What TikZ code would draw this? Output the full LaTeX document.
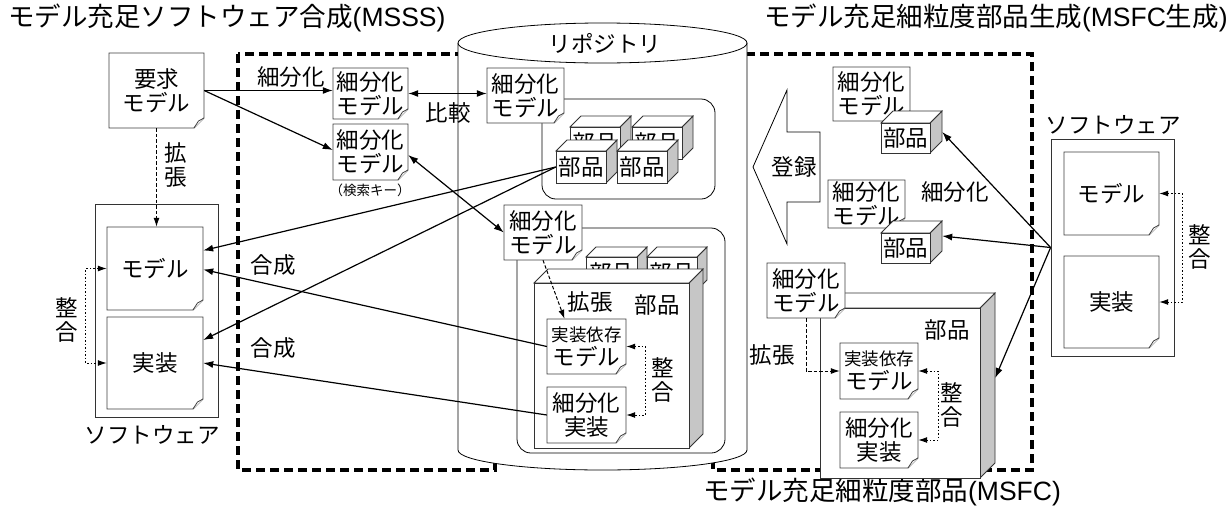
\documentclass[tikz,border=0pt]{standalone}
\usepackage{fontspec}
\setmainfont{Noto Sans CJK JP}
\newfontfamily\lat{Liberation Sans}
\usetikzlibrary{arrows.meta,calc}
\newcommand\fsz{\fontsize{22.5}{24}\selectfont}
\newcommand\fsm{\fontsize{17.5}{19.5}\selectfont}
\newcommand\fst{\fontsize{26.5}{28}\selectfont}
\newcommand\fsk{\fontsize{13.5}{15}\selectfont}
\newcommand\fo{10}
\tikzset{
 docline/.style={draw=black!75, line width=0.8pt, fill=white},
 boxline/.style={draw=black!80, line width=0.8pt},
 tip/.tip={Latex[length=10pt,width=7pt]},
 stip/.tip={Latex[length=9pt,width=6pt]},
 conn/.style={line width=1.2pt, -tip},
 biconn/.style={line width=1.2pt, tip-tip},
 dasharrow/.style={line width=1pt, dash pattern=on 3.5pt off 2pt, -stip},
 dotarrow/.style={line width=1pt, dash pattern=on 1.5pt off 2pt, stip-stip},
 bigdash/.style={line width=3.5pt, dash pattern=on 9pt off 5pt},
 lbl/.style={inner sep=0pt, font=\fsz, align=center},
 doctext/.style={inner sep=0pt, font=\fsz, align=center},
}
% name, x0, y0, x1, y1, text
\newcommand\docshape[6]{%
 \filldraw[docline] (#2,#3) -- (#4,#3) -- (#4,#5-\fo) -- (#4-\fo,#5) -- (#2,#5) -- cycle;
 \draw[docline] (#4,#5-\fo) -- (#4-0.55*\fo,#5-0.7*\fo) -- (#4-\fo,#5);
 \node[doctext, minimum width={(#4-#2)*1pt}, minimum height={(#5-#3)*1pt}] (#1) at ({(#2+#4)/2},{(#3+#5)/2}) {#6};
}
% name, x0, y0, x1, y1, depth, text
\newcommand\cubebox[7]{%
 \filldraw[boxline, fill=gray!45] (#4,#3) -- (#4+#6,#3-#6) -- (#4+#6,#5-#6) -- (#4,#5) -- cycle;
 \filldraw[boxline, fill=white] (#2,#3) -- (#2+#6,#3-#6) -- (#4+#6,#3-#6) -- (#4,#3) -- cycle;
 \filldraw[boxline, fill=white] (#2,#3) rectangle (#4,#5);
 \node[doctext, minimum width={(#4-#2)*1pt}, minimum height={(#5-#3)*1pt}] (#1) at ({(#2+#4)/2},{(#3+#5)/2}) {#7};
}
\begin{document}
\begin{tikzpicture}[x=1pt,y=-1pt]
\useasboundingbox (0,0) rectangle (1232,509);
\fill[white] (0,0) rectangle (1232,509);

% titles
\node[lbl, font=\fst, anchor=west] (t1) at (8,18) {モデル充足ソフトウェア合成{\lat (MSSS)}};
\node[lbl, font=\fst, anchor=east] (t2) at (1228,18) {モデル充足細粒度部品生成{\lat (MSFC}生成{\lat )}};
\node[lbl, font=\fst] (t3) at (882,492) {モデル充足細粒度部品{\lat (MSFC)}};

% dashed regions
\draw[bigdash] (238,54) rectangle (495,470);
\draw[bigdash] (713,54) rectangle (1032,470);

% repository cylinder
\path[fill=white] (458,43) -- (458,450) arc[start angle=180,end angle=0,x radius=144.5,y radius=20] -- (747,43) -- cycle;
\draw[line width=0.8pt] (458,43) -- (458,450) arc[start angle=180,end angle=0,x radius=144.5,y radius=20] -- (747,43);
\draw[line width=0.8pt, fill=white] (602.5,43) ellipse [x radius=144.5, y radius=20];
\node[lbl] (repo) at (605,43) {リポジトリ};

% repository group 1
\node[draw, line width=0.8pt, rounded corners=14pt, minimum width=173pt, minimum height=100pt] (g1) at (628.5,149) {};
\cubebox{pb1}{570}{127}{620}{159}{11}{部品}
\cubebox{pb2}{632}{127}{682}{159}{11}{部品}
\cubebox{pf1}{556}{151}{606}{183}{11}{部品}
\cubebox{pf2}{617}{151}{667}{183}{11}{部品}
\docshape{r1}{487}{68}{564}{123}{細分化\\モデル}

% repository group 2
\node[draw, line width=0.8pt, rounded corners=14pt, minimum width=208pt, minimum height=225pt] (g2) at (621,340.5) {};
\cubebox{pb3}{586}{257}{637}{290}{10}{部品}
\cubebox{pb4}{647}{257}{697}{290}{10}{部品}
\cubebox{pbig}{534}{283}{689}{448}{14}{}
\node[lbl] (kz1) at (590,302) {拡張};
\node[lbl] (bh1) at (657,305) {部品};
\docshape{r2}{504}{205}{582}{260}{細分化\\モデル}
\docshape{i1}{547}{319}{626}{374}{{\fsm 実装依存}\\モデル}
\docshape{i2}{547}{387}{626}{443}{細分化\\実装}
\draw[dasharrow] (r2.south) -- ($(i1.north)+(-22,0)$);
\draw[dotarrow] (i1.east) -- ++(19,0) |- (i2.east);
\node[lbl] (sg1) at (663,380) {整\\合};

% registration arrow
\draw[line width=0.8pt, fill=white] (753,167) -- (787,90) -- (787,132) -- (820,132) -- (820,202) -- (787,202) -- (787,244) -- cycle;
\node[lbl] (reg) at (794,167) {登録};

% MSFC generation
\docshape{m1}{833}{67}{910}{121}{細分化\\モデル}
\cubebox{mp1}{881}{123}{930}{153}{12}{部品}
\docshape{m2}{828}{180}{905}{228}{細分化\\モデル}
\cubebox{mp2}{881}{233}{930}{263}{12}{部品}
\node[lbl] (sb2) at (955,192) {細分化};

% right software
\node[boxline, draw, fill=white, minimum width=123pt, minimum height=217pt] (swr) at (1112.5,247.5) {};
\node[lbl] (swrl) at (1113,125) {ソフトウェア};
\docshape{sm}{1064}{152}{1159}{235}{モデル}
\docshape{si}{1064}{256}{1159}{348}{実装}
\draw[dotarrow] (sm.east) -- ++(23,0) |- (si.east);
\node[lbl] (sg2) at (1200,247) {整\\合};

% MSFC big part
\cubebox{mbig}{820}{308}{980}{478}{15}{}
\node[lbl] (bh2) at (947,330) {部品};
\docshape{mi1}{840}{343}{918}{399}{{\fsm 実装依存}\\モデル}
\docshape{mi2}{840}{412}{918}{468}{細分化\\実装}
\docshape{mf}{767}{263}{845}{318}{細分化\\モデル}
\draw[dasharrow] (mf.south) |- (mi1.west);
\node[lbl] (kz2) at (772,355) {拡張};
\draw[dotarrow] (mi1.east) -- ++(20,0) |- (mi2.east);
\node[lbl] (sg3) at (952,405) {整\\合};

% left side
\docshape{req}{109}{53}{204}{128}{要求\\モデル}
\docshape{s1}{333}{68}{408}{119}{細分化\\モデル}
\docshape{s2}{333}{124}{408}{180}{細分化\\モデル}
\node[lbl, font=\fsk] (key) at (370,190) {（検索キー）};
\node[boxline, draw, fill=white, minimum width=123pt, minimum height=213pt] (swl) at (156.5,310.5) {};
\node[lbl] (swll) at (152,435) {ソフトウェア};
\docshape{lm}{107}{227}{203}{310}{モデル}
\docshape{li}{107}{317}{203}{409}{実装}
\draw[dasharrow] (req.south) -- (req.south |- lm.north);
\node[lbl] (kz0) at (176,165) {拡\\張};
\draw[dotarrow] (lm.west) -- ++(-21,0) |- (li.west);
\node[lbl] (sg0) at (67,320) {整\\合};

% connectors
\draw[conn] (req.east) -- (s1.west |- req.east);
\node[lbl] (sb1) at (291,77) {細分化};
\draw[conn] (req.east) -- ($(s2.west)+(0,-2)$);
\draw[biconn] (s1.east) -- (s1.east -| r1.west);
\node[lbl] (hk) at (448,113) {比較};
\draw[biconn] ($(s2.east)+(0,3)$) -- (r2.west);
\draw[conn] (pf1.west) -- ($(lm.east)+(0,-18)$);
\draw[conn] (pf1.west) -- ($(li.east)+(0,-23)$);
\draw[conn] (i1.west) -- ($(lm.east)+(0,1)$);
\draw[conn] (i2.west) -- (li.east);
\node[lbl] (gs1) at (273,265) {合成};
\node[lbl] (gs2) at (273,348) {合成};
\draw[conn] (swr.west) -- ($(mp1.east)+(12,-6)$);
\draw[conn] (swr.west) -- ($(mp2.east)+(12,-12)$);
\draw[conn] (swr.west) -- ($(mbig.east)+(15,-15)$);
\end{tikzpicture}
\end{document}
